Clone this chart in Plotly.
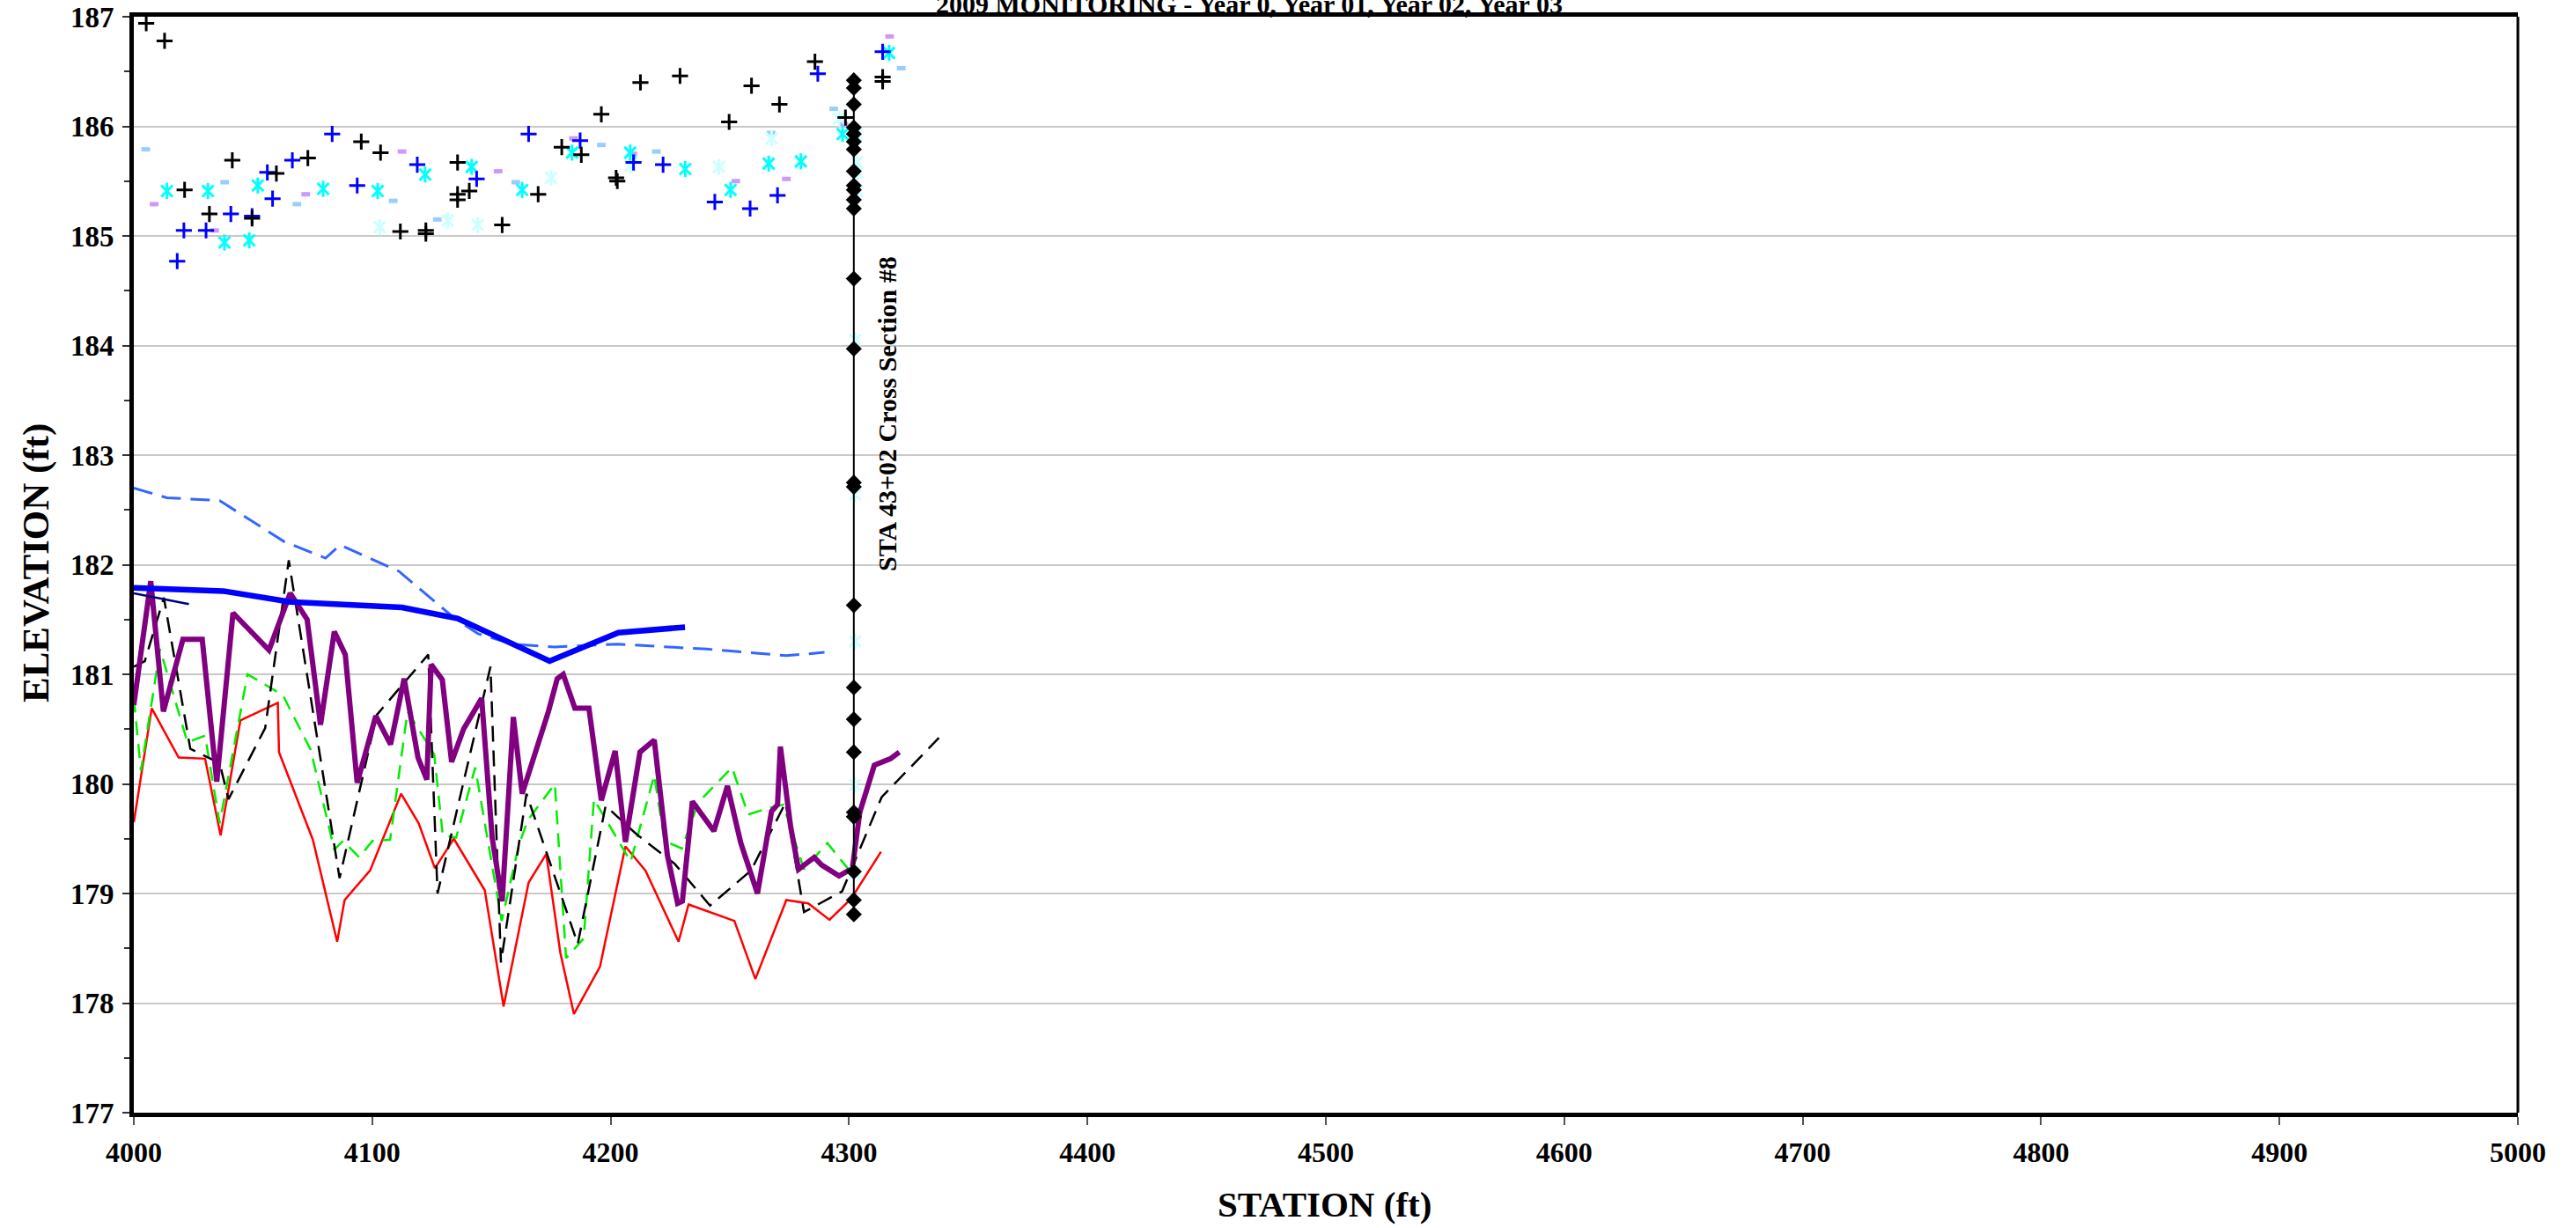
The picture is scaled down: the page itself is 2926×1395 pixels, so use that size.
import plotly.graph_objects as go

# ---------------- survey data (station ft, elevation ft) ----------------
# Top of bank points
yr0_bank_x = [4005.2, 4012.9, 4021.3, 4031.7, 4041.3, 4049.6, 4059.8, 4073.0, 4095.4, 4103.5,
              4111.8, 4122.5, 4122.5, 4135.8, 4135.8, 4135.8, 4140.7, 4154.5, 4169.6, 4179.5,
              4187.7, 4196.1, 4202.3, 4202.8, 4212.5, 4229.1, 4249.7, 4259.1, 4270.8, 4285.7,
              4298.5, 4314.1, 4314.1]
yr0_bank_y = [186.94, 186.78, 185.42, 185.20, 185.69, 185.16, 185.57, 185.71, 185.86, 185.76,
              185.04, 185.05, 185.02, 185.67, 185.38, 185.33, 185.41, 185.10, 185.38, 185.81,
              185.74, 186.11, 185.53, 185.50, 186.40, 186.46, 186.04, 186.37, 186.20, 186.59,
              186.08, 186.45, 186.41]

yr1_bank_x = [4018.2, 4021.0, 4030.3, 4040.7, 4049.6, 4056.0, 4058.2, 4066.5, 4083.2, 4093.7,
              4118.9, 4143.8, 4165.6, 4187.2, 4209.6, 4222.0, 4243.7, 4258.5, 4270.0, 4286.9,
              4314.1]
yr1_bank_y = [184.77, 185.05, 185.05, 185.20, 185.18, 185.58, 185.34, 185.69, 185.93, 185.46,
              185.65, 185.52, 185.93, 185.87, 185.67, 185.65, 185.31, 185.25, 185.37, 186.48,
              186.68]

yr2_bank_x = [4013.9, 4031.1, 4038.0, 4048.4, 4052.0, 4079.4, 4102.3, 4122.2, 4141.7, 4162.9,
              4183.8, 4208.2, 4231.3, 4250.3, 4266.3, 4279.8, 4297.3, 4316.8]
yr2_bank_y = [185.41, 185.41, 184.94, 184.96, 185.46, 185.43, 185.41, 185.56, 185.63, 185.42,
              185.76, 185.76, 185.61, 185.42, 185.66, 185.68, 185.93, 186.67]

yr3_bank_x = [4103.1, 4131.7, 4144.2, 4175.0, 4208.4, 4245.4, 4267.5, 4295.8, 4303.2, 4303.2,
              4303.5, 4303.5, 4302.6, 4302.5, 4302.5, 4302.5, 4302.5]
yr3_bank_y = [185.08, 185.14, 185.10, 185.53, 185.64, 185.63, 185.89, 186.07, 185.92, 185.67,
              185.58, 185.41, 184.05, 182.64, 181.30, 179.99, 179.19]

lb_bank_x = [4005.0, 4038.1, 4068.4, 4108.8, 4127.3, 4160.2, 4196.1, 4219.2, 4267.3, 4293.6, 4321.9]
lb_bank_y = [185.79, 185.49, 185.29, 185.32, 185.15, 185.49, 185.83, 185.77, 185.94, 186.16, 186.53]

lav_bank_x = [4008.5, 4033.9, 4072.1, 4112.5, 4152.8, 4184.4, 4209.3, 4252.5, 4273.7, 4297.9, 4317.0]
lav_bank_y = [185.29, 185.05, 185.38, 185.77, 185.59, 185.89, 185.75, 185.50, 185.52, 186.02, 186.82]

# Cross section #8 at STA 43+02
xs8_station = 4302
xs8_elev = [186.42, 186.35, 186.20, 185.99, 185.93, 185.86, 185.79, 185.59, 185.46, 185.42,
            185.33, 185.25, 184.61, 183.97, 182.75, 182.71, 181.63, 180.88, 180.59, 180.29,
            179.74, 179.70, 179.20, 178.94, 178.81]

# Water surface profiles
ws_x = [4000, 4011.4, 4037.3, 4065.6, 4112.4, 4135.8, 4174.4, 4203.2, 4231.2]
ws_y = [181.79, 181.78, 181.76, 181.66, 181.61, 181.51, 181.12, 181.38, 181.43]

ws0_x = [4000, 4013.9, 4036.0, 4063.1, 4080.4, 4086.5, 4111.2, 4134.6, 4144.4, 4159.2,
         4176.4, 4202.9, 4240.4, 4273.7, 4289.7]
ws0_y = [182.70, 182.61, 182.585, 182.21, 182.06, 182.18, 181.94, 181.51, 181.37, 181.275,
         181.25, 181.275, 181.23, 181.17, 181.20]

ws_short_x = [4000, 4023.1]
ws_short_y = [181.74, 181.64]

# Thalweg profiles
thw3_x = [4000, 4007.1, 4012.4, 4020.6, 4028.7, 4034.8, 4041.6, 4056.7, 4065.6, 4072.7,
          4078.3, 4084.1, 4088.7, 4093.7, 4101.5, 4107.7, 4113.4, 4119.2, 4122.9, 4124.7,
          4129.4, 4133.3, 4138.3, 4145.9, 4150.3, 4154.5, 4159.2, 4162.9, 4173.9, 4177.6,
          4180.1, 4185.0, 4190.9, 4196.1, 4201.9, 4206.2, 4212.3, 4218.3, 4223.8, 4228.1,
          4230.1, 4234.3, 4243.3, 4249.0, 4254.6, 4261.6, 4267.5, 4270.0, 4271.2, 4275.5,
          4278.8, 4285.4, 4288.5, 4295.8, 4301.4, 4304.5, 4310.6, 4317.4, 4321.1]
thw3_y = [180.72, 181.85, 180.66, 181.32, 181.32, 180.02, 181.56, 181.22, 181.74, 181.50,
          180.54, 181.39, 181.18, 180.01, 180.62, 180.36, 180.96, 180.24, 180.04, 181.09,
          180.95, 180.20, 180.50, 180.78, 179.51, 178.93, 180.61, 179.91, 180.66, 180.96,
          181.00, 180.69, 180.69, 179.85, 180.30, 179.47, 180.29, 180.40, 179.35, 178.91,
          178.93, 179.84, 179.57, 179.98, 179.46, 179.00, 179.75, 179.81, 180.34, 179.61,
          179.22, 179.33, 179.26, 179.16, 179.23, 179.74, 180.17, 180.23, 180.29]

thw0_x = [4000, 4004.6, 4012.6, 4023.7, 4036.0, 4039.7, 4055.1, 4065.0, 4086.3, 4101.9,
          4123.5, 4127.4, 4149.6, 4154.0, 4164.7, 4186.2, 4197.9, 4210.9, 4226.9, 4241.7,
          4258.9, 4273.4, 4281.1, 4297.1, 4313.7, 4337.7]
thw0_y = [181.07, 181.12, 181.70, 180.32, 180.19, 179.86, 180.51, 182.04, 179.14, 180.63,
          181.18, 179.00, 181.07, 178.37, 179.91, 178.54, 179.80, 179.54, 179.27, 178.89,
          179.21, 179.83, 178.83, 179.02, 179.88, 180.42]

thw1_x = [4000, 4003.0, 4011.0, 4022.5, 4029.9, 4036.0, 4047.7, 4062.5, 4074.2, 4084.1,
          4087.8, 4094.5, 4100.1, 4107.5, 4114.8, 4126.0, 4129.6, 4135.2, 4143.2, 4154.3,
          4161.6, 4165.3, 4176.6, 4181.3, 4188.7, 4193.0, 4208.4, 4218.3, 4222.6, 4229.9,
          4236.7, 4250.9, 4257.7, 4266.3, 4272.4, 4281.1, 4290.9, 4302.0]
thw1_y = [180.78, 180.12, 181.23, 180.38, 180.44, 179.64, 181.00, 180.81, 180.31, 179.40,
          179.48, 179.33, 179.48, 179.49, 180.66, 180.27, 179.53, 179.51, 180.15, 178.75,
          179.45, 179.67, 180.00, 178.41, 178.59, 179.86, 179.29, 180.08, 179.48, 179.41,
          179.83, 180.15, 179.72, 179.78, 179.81, 179.22, 179.46, 179.16]

thw2_x = [4000, 4007.5, 4018.8, 4029.9, 4036.4, 4044.7, 4060.4, 4060.9, 4075.1, 4085.3,
          4088.4, 4099.1, 4112.1, 4119.5, 4126.3, 4134.2, 4147.2, 4155.1, 4165.6, 4173.0,
          4178.9, 4184.6, 4195.5, 4206.2, 4214.6, 4228.5, 4232.7, 4251.9, 4260.7, 4273.7,
          4282.9, 4291.8, 4300.8, 4313.4]
thw2_y = [179.65, 180.69, 180.24, 180.23, 179.53, 180.58, 180.74, 180.29, 179.49, 178.56,
          178.94, 179.21, 179.91, 179.64, 179.23, 179.50, 179.03, 177.97, 179.10, 179.36,
          178.46, 177.90, 178.33, 179.43, 179.21, 178.56, 178.90, 178.75, 178.22, 178.94,
          178.91, 178.76, 178.95, 179.38]

# Axis ticks
x_ticks = [4000, 4100, 4200, 4300, 4400, 4500, 4600, 4700, 4800, 4900, 5000]
y_ticks = [177, 178, 179, 180, 181, 182, 183, 184, 185, 186, 187]

SERIF = "Liberation Serif, Times New Roman, serif"

fig = go.Figure()


def line(x, y, color, width, dash="solid"):
    fig.add_trace(go.Scatter(x=x, y=y, mode="lines",
                             line=dict(color=color, width=width, dash=dash),
                             showlegend=False, hoverinfo="skip"))


def points(x, y, symbol, color, size, lw):
    fig.add_trace(go.Scatter(x=x, y=y, mode="markers",
                             marker=dict(symbol=symbol, size=size, color=color,
                                         line=dict(color=color, width=lw)),
                             showlegend=False, hoverinfo="skip"))


# profile lines
line(thw2_x, thw2_y, "#FF0000", 2.5)
line(thw1_x, thw1_y, "#00EE00", 2.5, "16px,10px")
line(thw0_x, thw0_y, "#000000", 2.5, "18px,10px")
line(thw3_x, thw3_y, "#800080", 6)
line(ws0_x, ws0_y, "#3366FF", 3, "22px,11px")
line(ws_short_x, ws_short_y, "#000080", 2.5)
line(ws_x, ws_y, "#0000FF", 6.5)

# bank points
points(lb_bank_x, lb_bank_y, "line-ew", "#99CCFF", 7, 5)
points(lav_bank_x, lav_bank_y, "line-ew", "#CC99FF", 7, 5)
for sym in ("x-thin", "line-ns"):
    points(yr3_bank_x, yr3_bank_y, sym, "#CCFFFF", 13, 3)
for sym in ("x-thin", "line-ns"):
    points(yr2_bank_x, yr2_bank_y, sym, "#00FFFF", 13, 3)
points(yr1_bank_x, yr1_bank_y, "cross-thin", "#0000FF", 13, 3)
points(yr0_bank_x, yr0_bank_y, "cross-thin", "#000000", 13, 3)

# cross section marker line
fig.add_trace(go.Scatter(x=[xs8_station] * len(xs8_elev), y=xs8_elev, mode="lines+markers",
                         line=dict(color="#000000", width=2),
                         marker=dict(symbol="diamond", size=14, color="#000000"),
                         showlegend=False, hoverinfo="skip"))

fig.update_layout(
    width=2926, height=1395,
    margin=dict(l=152, r=66, t=19, b=131, autoexpand=False),
    paper_bgcolor="white", plot_bgcolor="white",
    font=dict(family=SERIF, color="black"),
    xaxis=dict(range=[4000, 5000], tickvals=x_ticks, ticktext=[str(v) for v in x_ticks],
               automargin=False,
               showgrid=False, zeroline=False,
               showline=True, linecolor="black", linewidth=5, mirror=True,
               ticks="outside", ticklen=9, tickwidth=2, tickcolor="#555555",
               ticklabelstandoff=4,
               tickfont=dict(family=SERIF, size=32, color="black", weight="bold")),
    yaxis=dict(range=[177, 187], tickvals=y_ticks, ticktext=[str(v) for v in y_ticks],
               automargin=False,
               showgrid=True, gridcolor="#C8C8C8", gridwidth=1.5, zeroline=False,
               showline=True, linecolor="black", linewidth=5,
               ticks="outside", ticklen=8, tickwidth=2, tickcolor="#333333",
               minor=dict(dtick=0.5, ticks="outside", ticklen=6, tickwidth=2,
                          tickcolor="#333333", showgrid=False),
               ticklabelstandoff=3,
               tickfont=dict(family=SERIF, size=33, color="black", weight="bold")),
    shapes=[dict(type="line", xref="paper", yref="paper", x0=1, x1=1, y0=0, y1=1,
                 line=dict(color="black", width=3))],
    annotations=[
        dict(text="2009 MONITORING - Year 0, Year 01, Year 02, Year 03",
             xref="paper", yref="paper", x=0.468, y=(1264 - 4) / 1245,
             xanchor="center", yanchor="middle", showarrow=False,
             font=dict(family=SERIF, size=30, color="black", weight="bold")),
        dict(text="STA 43+02 Cross Section #8", xref="x", yref="y",
             x=4316, y=183.375, textangle=-90, xanchor="center", yanchor="middle",
             showarrow=False,
             font=dict(family=SERIF, size=30, color="black", weight="bold")),
        dict(text="STATION (ft)", xref="paper", yref="paper",
             x=(1504 - 152) / 2708, y=-(1368 - 1264) / 1245,
             xanchor="center", yanchor="middle", showarrow=False,
             font=dict(family=SERIF, size=41, color="black", weight="bold")),
        dict(text="ELEVATION (ft)", xref="paper", yref="paper",
             x=-(152 - 41) / 2708, y=(1264 - 640) / 1245, textangle=-90,
             xanchor="center", yanchor="middle", showarrow=False,
             font=dict(family=SERIF, size=43, color="black", weight="bold")),
    ],
)

fig.write_html("out.html")
